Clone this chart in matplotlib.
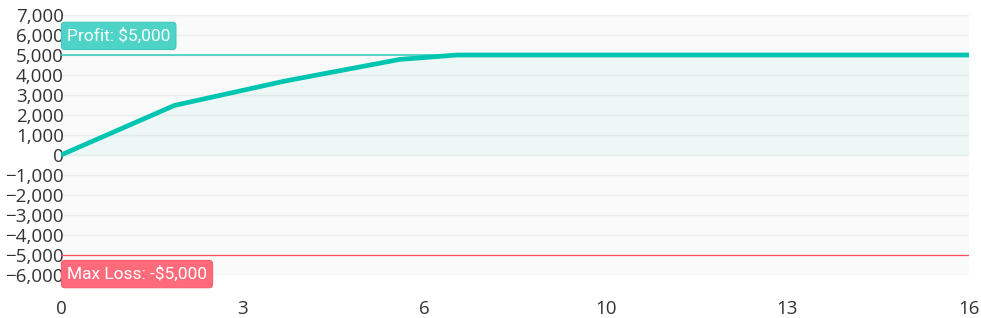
import matplotlib
matplotlib.use("Agg")
import matplotlib.pyplot as plt
import numpy as np
from matplotlib.ticker import FuncFormatter

# ---- data ----
days = [0, 2.0, 3.95, 5.97, 6.98, 16]
pnl = [0, 2480, 3700, 4780, 5000, 5000]
max_profit = 5000
max_loss = -5000
x_tick_labels = ["0", "3", "6", "10", "13", "16"]
profit_label = "Profit: $5,000"
loss_label = "Max Loss: -$5,000"

TEAL = "#00c5b0"
RED = "#ff4d5e"

W, H = 981, 318
fig = plt.figure(figsize=(W / 100, H / 100), dpi=100)
ax = fig.add_axes([61 / W, 1 - 275 / H, (969 - 61) / W, (275 - 15) / H])
ax.set_facecolor("#fafafa")
for s in ax.spines.values():
    s.set_visible(False)

ax.set_xlim(0, 16)
ax.set_ylim(-6000, 7000)
ax.set_yticks(np.arange(-6000, 7001, 1000))
ax.yaxis.set_major_formatter(FuncFormatter(lambda v, p: f"{int(v):,}".replace("-", "\u2212")))
ax.set_xticks(np.linspace(0, 16, len(x_tick_labels)))
ax.set_xticklabels(x_tick_labels)
ax.grid(axis="y", color="#ececec", lw=1)
ax.set_axisbelow(True)

for lab in ax.get_yticklabels() + ax.get_xticklabels():
    lab.set_fontfamily(["Open Sans", "DejaVu Sans"])
    lab.set_fontsize(13.5)
    lab.set_color("#333333")
ax.tick_params(axis="y", length=0, pad=-2)
ax.tick_params(axis="x", length=0, pad=18)

ax.fill_between(days, pnl, 0, color=TEAL, alpha=0.05, lw=0, zorder=1)
ax.axhline(max_profit, color="#3dcfbf", lw=1.2, zorder=2)
ax.axhline(max_loss, color=RED, lw=0.9, zorder=2)
ax.plot(days, pnl, color=TEAL, lw=3.4, solid_capstyle="butt", solid_joinstyle="round", zorder=3)

ax.annotate(profit_label, xy=(0, max_profit), xycoords="data",
            xytext=(6, 11), textcoords="offset pixels", ha="left", va="bottom",
            fontsize=12.5, color="white", family=["Roboto", "DejaVu Sans"], zorder=5,
            bbox=dict(boxstyle="round,pad=0.32,rounding_size=0.2", fc="#4dd4c6", ec="#3ccabb", lw=0.8),
            annotation_clip=False)
ax.annotate(loss_label, xy=(0, max_loss), xycoords="data",
            xytext=(6, -11), textcoords="offset pixels", ha="left", va="top",
            fontsize=12.5, color="white", family=["Roboto", "DejaVu Sans"], zorder=5,
            bbox=dict(boxstyle="round,pad=0.32,rounding_size=0.2", fc="#ff6b7b", ec="#f85d6e", lw=0.8),
            annotation_clip=False)

fig.savefig("out.png", dpi=100)
